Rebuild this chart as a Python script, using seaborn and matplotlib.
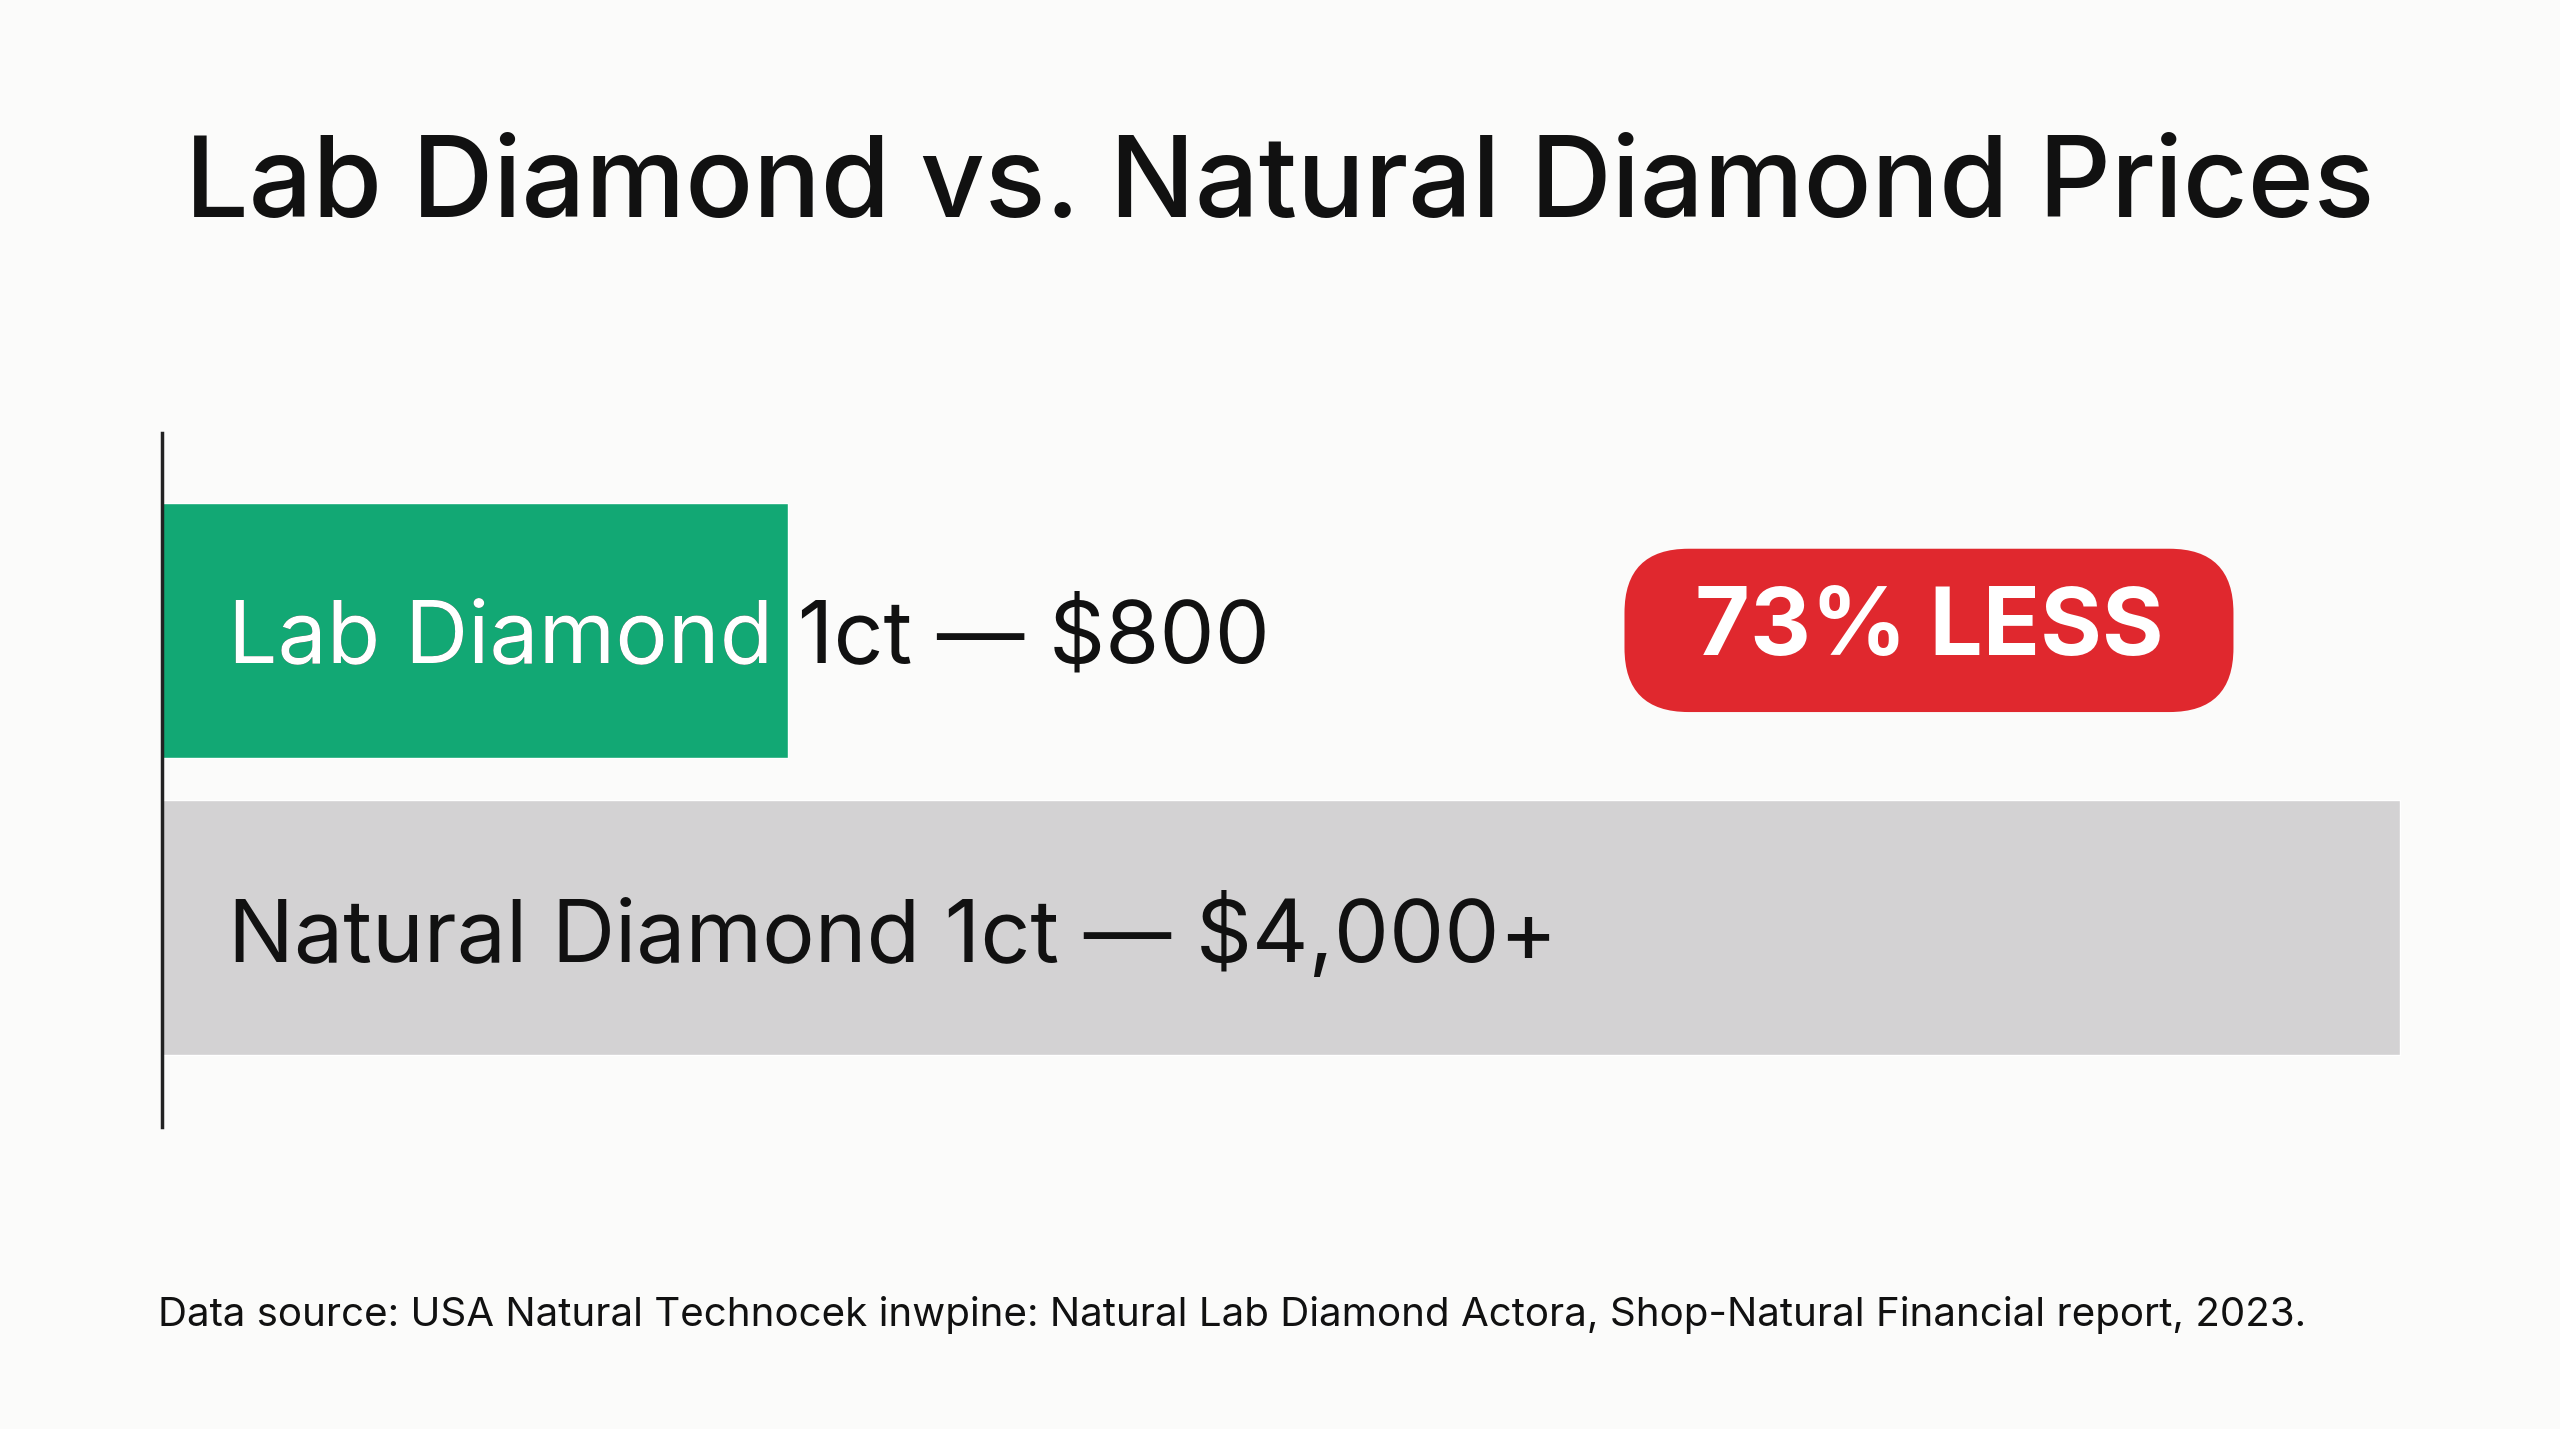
import matplotlib
matplotlib.use("Agg")
import matplotlib.pyplot as plt
import seaborn as sns
import pandas as pd
from matplotlib.patches import FancyBboxPatch

categories = ["Lab Diamond", "Natural Diamond"]
bar_lengths = [800, 2860]          # visual bar lengths
labels = ["Lab Diamond 1ct \u2014 $800", "Natural Diamond 1ct \u2014 $4,000+"]
colors = ["#12A874", "#D3D2D3"]
badge_text = "73% LESS"
title = "Lab Diamond vs. Natural Diamond Prices"
source = "Data source: USA Natural Technocek inwpine: Natural Lab Diamond Actora, Shop-Natural Financial report, 2023."

sns.set_theme(style="white")
plt.rcParams['font.family'] = ['Inter', 'DejaVu Sans']
bg = "#FBFBFA"
fig = plt.figure(figsize=(25.6, 14.29), dpi=100, facecolor=bg)
ax = fig.add_axes([0.0631, 0.2114, 0.917, 0.4857], facecolor=bg)

df = pd.DataFrame({"cat": categories, "val": bar_lengths})
sns.barplot(data=df, x="val", y="cat", hue="cat", palette=colors, legend=False,
            width=0.857, saturation=1, ax=ax, orient="h")
ax.set_xlim(0, 3000)
ax.set_ylim(1.67, -0.665)
ax.set_xlabel(""); ax.set_ylabel("")
ax.set_xticks([]); ax.set_yticks([])
for s in ["top", "right", "bottom"]:
    ax.spines[s].set_visible(False)
ax.spines["left"].set_color("#222222")
ax.spines["left"].set_linewidth(2.5)

bars = sorted(ax.patches, key=lambda p: p.get_y())
x0 = 85
for i, (lab, p) in enumerate(zip(labels, bars)):
    ax.text(x0, i + 0.03, lab, fontsize=63, color="#111111", va="center", ha="left")
    if i == 0:
        t = ax.text(x0, i + 0.03, lab, fontsize=63, color="white", va="center",
                    ha="left", clip_on=True)
        t.set_clip_path(p)

bx0, bx1 = 995/1568, 1368/1568
by0, by1 = 1-436/875, 1-336/875
badge = FancyBboxPatch((bx0, by0), bx1-bx0, by1-by0, transform=fig.transFigure,
                       boxstyle="round,pad=0,rounding_size=0.025", mutation_aspect=1.79,
                       facecolor="#E0282E", edgecolor="none")
fig.patches.append(badge)
fig.text((bx0+bx1)/2, (by0+by1)/2, badge_text, fontsize=68, fontweight="bold",
         color="white", ha="center", va="center")

fig.text(0.5, 1-115/875, title, fontsize=81, fontweight="medium", color="#111111",
         ha="center", va="center")
fig.text(97/1568, 1-805/875, source, fontsize=29, color="#111111", ha="left", va="center")

fig.savefig("out.png", dpi=100, facecolor=bg)
